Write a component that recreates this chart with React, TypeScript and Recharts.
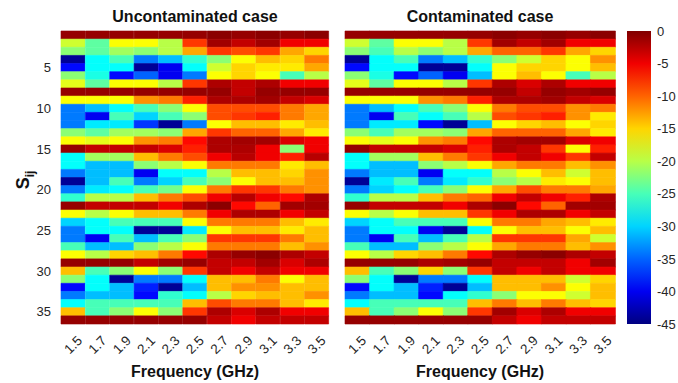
import { BarChart, Bar, XAxis, YAxis, Cell } from 'recharts'

const freqs = ['1.5', '1.7', '1.9', '2.1', '2.3', '2.5', '2.7', '2.9', '3.1', '3.3', '3.5']
const rowTicks = [5, 10, 15, 20, 25, 30, 35]
const cbTicks = [0, -5, -10, -15, -20, -25, -30, -35, -40, -45]

// S_ij magnitude (dB), one row per S parameter, one value per frequency
const clean: number[][] = [
  [-1, -1, -1, -1, -1, -1, -0.5, -1, -0.5, -1, -0.5],
  [-19, -24, -17, -17, -20, -8, -1.5, -3, -1.5, -5, -5],
  [-22, -24, -21, -22, -20, -13, -8, -9, -8, -13, -15],
  [-44, -28, -25, -34, -31, -26, -22, -17, -14, -15, -11],
  [-39, -28, -28, -44, -40, -28, -19, -15, -16, -16, -13],
  [-22, -27, -39, -35, -40, -34, -17, -15, -17, -25, -20],
  [-18, -24, -17, -17, -20, -8, -2, -3, -2, -5, -5],
  [-1, -1, -1, -1, -1, -1, -1, -3, -1, -1, -1],
  [-17, -17, -17, -12, -11, -7, -2, -2, -1.5, -3, -4],
  [-34, -31, -28, -25, -22, -17, -9, -9, -9, -11, -13],
  [-34, -40, -25, -30, -25, -22, -9, -8, -7, -11, -13],
  [-34, -29, -29, -37, -44, -34, -17, -14, -14, -16, -14],
  [-22, -24, -21, -21, -22, -13, -8, -10, -10, -13, -16],
  [-17, -18, -17, -12, -11, -6, -2, -1.5, -1.5, -4, -5],
  [-1, -3, -3, -3, -4, -7, -2, -2, -5, -22, -5],
  [-28, -21, -21, -14, -11, -9, -5, -2.5, -5, -7, -2.5],
  [-28, -31, -31, -22, -20, -17, -11, -11, -11, -16, -14],
  [-34, -31, -31, -40, -28, -28, -20, -14, -14, -15, -12],
  [-44, -31, -25, -34, -30, -25, -22, -17, -14, -14, -12],
  [-34, -29, -28, -25, -23, -17, -11, -8, -8, -11, -12],
  [-26, -20, -20, -14, -11, -9, -5, -2.5, -5, -6, -2],
  [-1, -3, -3, -3, -5, -2, -0.5, -6, -10, -1.5, -1.5],
  [-17, -20, -17, -14, -14, -11, -5, -2, -2, -5, -3],
  [-30, -28, -25, -25, -25, -17, -11, -11, -11, -14, -16],
  [-34, -28, -28, -44, -44, -29, -17, -14, -14, -16, -14],
  [-34, -40, -25, -31, -25, -22, -8, -8, -8, -11, -14],
  [-25, -31, -31, -22, -20, -17, -11, -11, -11, -14, -12],
  [-17, -20, -15, -14, -11, -6, -2, -1, -0.5, -2, -3],
  [-1, -1, -1, -3, -1.5, -1, -3, -3, -1.5, -4, -2],
  [-14, -25, -22, -17, -22, -8, -3, -5, -3, -5, -5],
  [-22, -28, -44, -34, -34, -28, -14, -14, -11, -17, -14],
  [-39, -28, -31, -38, -44, -31, -14, -12, -12, -14, -14],
  [-34, -31, -31, -39, -26, -28, -20, -15, -14, -14, -12],
  [-28, -25, -25, -25, -25, -14, -9, -11, -11, -14, -16],
  [-14, -25, -22, -17, -22, -8, -2, -4, -2, -5, -5],
  [-1, -1, -1, -1, -1, -1, -3, -5, -3, -3, -3],
]

const contaminated: number[][] = [
  [-1, -1, -1, -1, -1, -1, -0.5, -1, -0.5, -1, -0.5],
  [-19, -24, -17, -17, -20, -8, -1.5, -3, -1.5, -5, -5],
  [-22, -25, -20, -22, -20, -13, -10, -10, -8, -13, -15],
  [-44, -28, -25, -34, -31, -26, -22, -19, -15, -17, -12],
  [-39, -28, -28, -44, -44, -28, -17, -15, -15, -17, -14],
  [-22, -27, -39, -35, -40, -31, -17, -14, -17, -25, -20],
  [-18, -24, -17, -17, -20, -8, -2, -4, -2, -5, -5],
  [-1, -1, -1, -1, -1, -1, -1, -3, -1, -1.5, -1],
  [-17, -17, -17, -12, -11, -7, -2, -2, -1.5, -3, -4],
  [-34, -31, -28, -25, -22, -17, -11, -9, -9, -12, -11],
  [-34, -40, -25, -28, -25, -20, -9, -8, -7, -12, -16],
  [-34, -29, -29, -39, -44, -31, -17, -15, -14, -17, -15],
  [-22, -25, -21, -21, -22, -13, -10, -10, -10, -13, -16],
  [-17, -18, -17, -12, -11, -6, -2, -1.5, -1.5, -4, -5],
  [-1, -3, -3, -3, -4, -7, -2, -3, -8, -17, -7],
  [-28, -21, -21, -14, -11, -8, -5, -3, -5, -8, -3],
  [-28, -31, -31, -22, -20, -17, -13, -11, -11, -14, -12],
  [-34, -31, -31, -40, -28, -28, -20, -17, -14, -19, -14],
  [-44, -29, -25, -34, -29, -26, -22, -20, -16, -17, -14],
  [-34, -30, -28, -25, -22, -17, -13, -9, -11, -11, -13],
  [-26, -20, -20, -14, -11, -10, -5, -3, -5, -7, -2],
  [-1, -3, -3, -3, -5, -2, -0.5, -6, -10, -1.5, -1.5],
  [-17, -20, -17, -14, -14, -8, -5, -2, -2, -5, -3],
  [-30, -28, -25, -25, -25, -17, -11, -11, -13, -14, -16],
  [-34, -28, -28, -40, -44, -28, -17, -14, -14, -17, -14],
  [-34, -40, -25, -31, -25, -20, -8, -8, -8, -13, -19],
  [-25, -31, -31, -22, -20, -17, -13, -11, -11, -14, -12],
  [-17, -20, -15, -14, -11, -6, -2, -1, -0.5, -2, -3],
  [-1, -1, -1, -2, -1.5, -1, -3, -3, -3, -5, -1.5],
  [-14, -25, -22, -15, -22, -8, -3, -5, -3, -5, -5],
  [-22, -28, -44, -34, -34, -28, -14, -14, -14, -19, -15],
  [-39, -28, -31, -38, -44, -31, -14, -14, -12, -17, -14],
  [-34, -31, -31, -39, -28, -26, -22, -17, -17, -19, -14],
  [-28, -25, -25, -25, -25, -14, -11, -14, -11, -14, -15],
  [-14, -25, -22, -17, -22, -8, -1.5, -4, -2, -5, -5],
  [-1, -1, -1, -1, -1, -1, -3, -5, -3, -3, -3],
]

const FONT = '"Liberation Sans", Arial, Helvetica, sans-serif'
const INK = '#262626'

// matlab jet, -45..0 dB
function jet(v: number) {
  const t = Math.min(1, Math.max(0, (v + 45) / 45))
  const ch = (c: number) => Math.round(255 * Math.min(1, Math.max(0, 1.5 - Math.abs(4 * t - c))))
  return `rgb(${ch(3)},${ch(2)},${ch(1)})`
}

// each column is one stacked bar, each row a segment of height 1
const stackData = freqs.map((f) => {
  const o: any = { f }
  clean.forEach((_, r) => (o['r' + r] = 1))
  return o
})

const FreqTick = (props: any) => {
  const { x, y, payload } = props
  return (
    <text
      transform={`translate(${x},${y + 13}) rotate(-45)`}
      textAnchor="middle"
      dominantBaseline="central"
      fontSize={13.5}
      fontFamily={FONT}
      fill={INK}
    >
      {payload.value}
    </text>
  )
}

function Heatmap({ values, showY, left, width }: { values: number[][]; showY: boolean; left: number; width: number }) {
  return (
    <div style={{ position: 'absolute', left, top: 0 }}>
      <BarChart
        width={width}
        height={383}
        data={stackData}
        margin={{ top: 31, right: showY ? 6 : 5, bottom: 0, left: showY ? 0 : 5 }}
        barCategoryGap={0}
        barGap={0}
      >
        <XAxis dataKey="f" height={59} interval={0} tickLine={false} axisLine={false} tick={<FreqTick />} />
        <YAxis
          type="number"
          domain={[0, 36]}
          reversed
          hide={!showY}
          width={61}
          ticks={rowTicks.map((t) => t - 0.5)}
          tickFormatter={(v: number) => String(v + 0.5)}
          tickLine={false}
          axisLine={false}
          tickSize={6}
          tickMargin={4}
          tick={{ fontSize: 13, fontFamily: FONT, fill: INK }}
        />
        {values.map((row, r) => (
          <Bar key={r} dataKey={'r' + r} stackId="s" isAnimationActive={false}>
            {row.map((v, c) => (
              <Cell key={c} fill={jet(v)} stroke={jet(v)} strokeWidth={0.6} />
            ))}
          </Bar>
        ))}
      </BarChart>
    </div>
  )
}

const cbData = [{ k: 'cb', v: [-45, 0] }]

function ColorBar() {
  return (
    <div style={{ position: 'absolute', left: 620, top: 0 }}>
      <BarChart width={58} height={383} data={cbData} margin={{ top: 31, right: 0, bottom: 59, left: 7 }} barCategoryGap={0}>
        <defs>
          <linearGradient id="jetGrad" x1="0" y1="0" x2="0" y2="1">
            {cbTicks.map((t, i) => (
              <stop key={i} offset={`${(i / (cbTicks.length - 1)) * 100}%`} stopColor={jet(t)} />
            ))}
          </linearGradient>
        </defs>
        <XAxis dataKey="k" hide />
        <YAxis
          orientation="right"
          type="number"
          domain={[-45, 0]}
          ticks={cbTicks}
          width={27}
          tickLine={false}
          axisLine={false}
          tickSize={6}
          tickMargin={0}
          tick={{ fontSize: 13, fontFamily: FONT, fill: INK, textAnchor: 'start' }}
        />
        <Bar dataKey="v" fill="url(#jetGrad)" isAnimationActive={false} />
      </BarChart>
    </div>
  )
}

const textStyle: any = {
  position: 'absolute',
  fontFamily: FONT,
  fontWeight: 'bold',
  fontSize: 16,
  color: '#111',
  whiteSpace: 'nowrap',
  transform: 'translate(-50%, -50%)',
  lineHeight: 1,
}

export default function App() {
  return (
    <div style={{ position: 'absolute', left: 0, top: 0, width: 678, height: 383, background: '#fff', overflow: 'hidden' }}>
      <Heatmap values={clean} showY left={0} width={335} />
      <Heatmap values={contaminated} showY={false} left={340} width={280} />
      <ColorBar />
      <div style={{ ...textStyle, left: 195, top: 17 }}>Uncontaminated case</div>
      <div style={{ ...textStyle, left: 480, top: 17 }}>Contaminated case</div>
      <div style={{ ...textStyle, left: 195, top: 372 }}>Frequency (GHz)</div>
      <div style={{ ...textStyle, left: 480, top: 372 }}>Frequency (GHz)</div>
      <div style={{ ...textStyle, left: 25, top: 180, fontSize: 18, transform: 'translate(-50%, -50%) rotate(-90deg)' }}>
        S<sub style={{ fontSize: 12 }}>ij</sub>
      </div>
    </div>
  )
}
